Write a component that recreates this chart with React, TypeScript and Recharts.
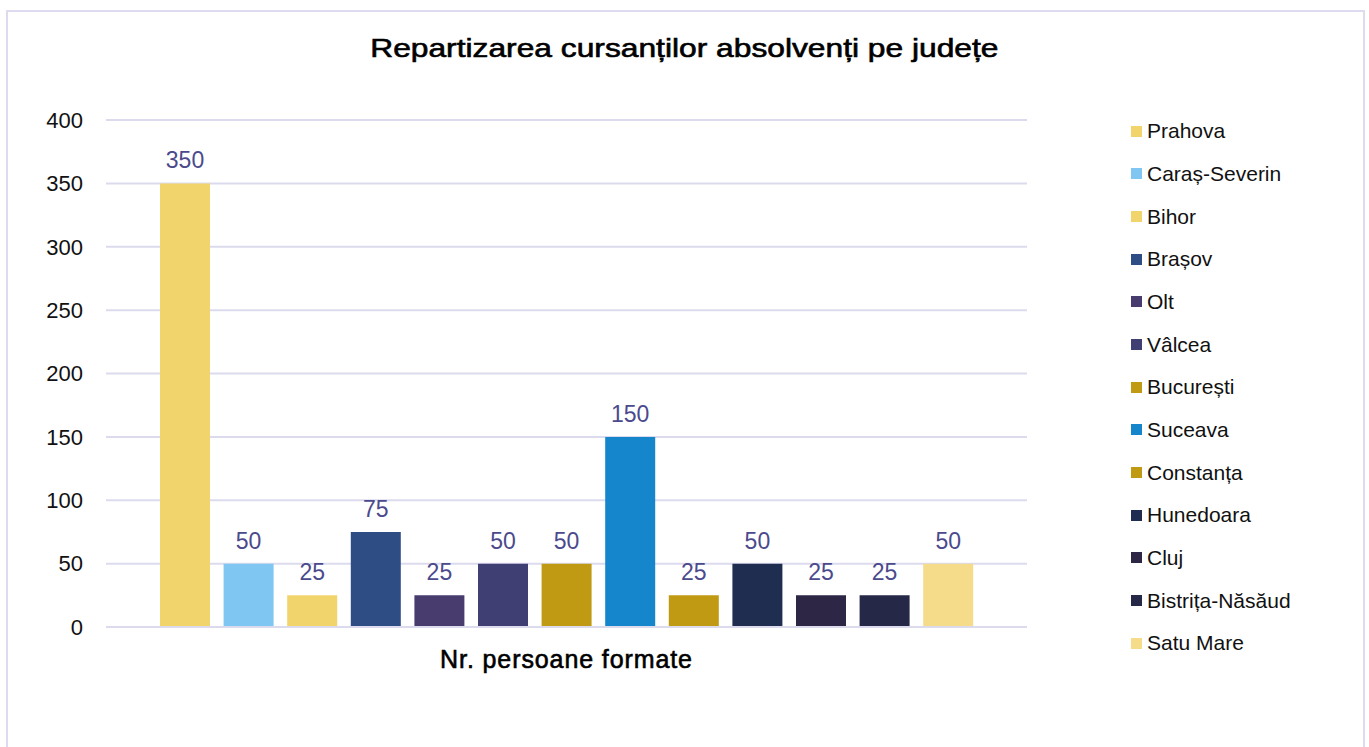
import { BarChart, Bar, XAxis, YAxis, CartesianGrid, Legend, LabelList } from 'recharts';

const counties = [
  'Prahova',
  'Caraș-Severin',
  'Bihor',
  'Brașov',
  'Olt',
  'Vâlcea',
  'București',
  'Suceava',
  'Constanța',
  'Hunedoara',
  'Cluj',
  'Bistrița-Năsăud',
  'Satu Mare',
];

const graduates = [350, 50, 25, 75, 25, 50, 50, 150, 25, 50, 25, 25, 50];

const barColors = [
  '#F2D46C',
  '#7FC6F2',
  '#F2D46C',
  '#2E4D84',
  '#483C6E',
  '#403F74',
  '#C09A12',
  '#1586CC',
  '#C09A12',
  '#1F2D50',
  '#2D2645',
  '#262848',
  '#F4DC8A',
];

const category = 'Nr. persoane formate';
const yTicks = [0, 50, 100, 150, 200, 250, 300, 350, 400];

const row: Record<string, string | number> = { name: category };
counties.forEach((c, i) => {
  row[c] = graduates[i];
});
const data = [row];

const font = '"Liberation Sans", Arial, sans-serif';

// legend keeps the series order (recharts sorts the payload by name otherwise)
const renderLegend = () => (
  <div style={{ fontFamily: font }}>
    {counties.map((c, i) => (
      <div key={c} style={{ height: 42.67, display: 'flex', alignItems: 'center' }}>
        <span
          style={{
            width: 11,
            height: 11,
            background: barColors[i],
            display: 'inline-block',
            marginRight: 5,
          }}
        />
        <span style={{ fontSize: 21, color: '#111' }}>{c}</span>
      </div>
    ))}
  </div>
);

export default function App() {
  return (
    <div style={{ position: 'absolute', left: 0, top: 0, width: 1369, height: 747, background: '#fff', overflow: 'hidden' }}>
      <div
        style={{
          position: 'absolute',
          left: 6,
          top: 10,
          width: 1355,
          height: 760,
          border: '2px solid #DCDBEF',
        }}
      />
      <div
        style={{
          position: 'absolute',
          left: 0,
          top: 33,
          width: 1369,
          textAlign: 'center',
          fontFamily: font,
          fontSize: 25,
          lineHeight: '30px',
          color: '#000',
          WebkitTextStroke: '0.6px #000',
          transform: 'scaleX(1.27)',
          transformOrigin: '685px 0',
        }}
      >
        Repartizarea cursanților absolvenți pe județe
      </div>
      <div style={{ position: 'absolute', left: 0, top: 0 }}>
        <BarChart
          width={1369}
          height={747}
          data={data}
          margin={{ top: 120, right: 342, left: 0, bottom: 60 }}
          barGap={13.6}
          barCategoryGap={54}
        >
          <CartesianGrid vertical={false} stroke="#DCDBEE" strokeWidth={2} />
          <XAxis
            dataKey="name"
            height={60}
            axisLine={{ stroke: '#DCDBEE', strokeWidth: 2 }}
            tickLine={false}
            tickSize={0}
            tickMargin={23}
            tick={{
              fill: '#000',
              stroke: '#000',
              strokeWidth: 0.6,
              fontSize: 25,
              letterSpacing: 0.9,
              fontFamily: font,
            }}
          />
          <YAxis
            width={106}
            domain={[0, 400]}
            ticks={yTicks}
            axisLine={false}
            tickLine={false}
            tickSize={0}
            tickMargin={23}
            tick={{ fill: '#111', fontSize: 22, fontFamily: font }}
          />
          <Legend
            layout="vertical"
            align="center"
            verticalAlign="middle"
            content={renderLegend}
            wrapperStyle={{ left: 1131, top: 110, width: 230 }}
          />
          {counties.map((c, i) => (
            <Bar key={c} dataKey={c} fill={barColors[i]} barSize={50} isAnimationActive={false}>
              <LabelList
                dataKey={c}
                position="top"
                offset={15}
                fill="#4B4A8C"
                fontSize={23}
                fontFamily={font}
              />
            </Bar>
          ))}
        </BarChart>
      </div>
    </div>
  );
}
